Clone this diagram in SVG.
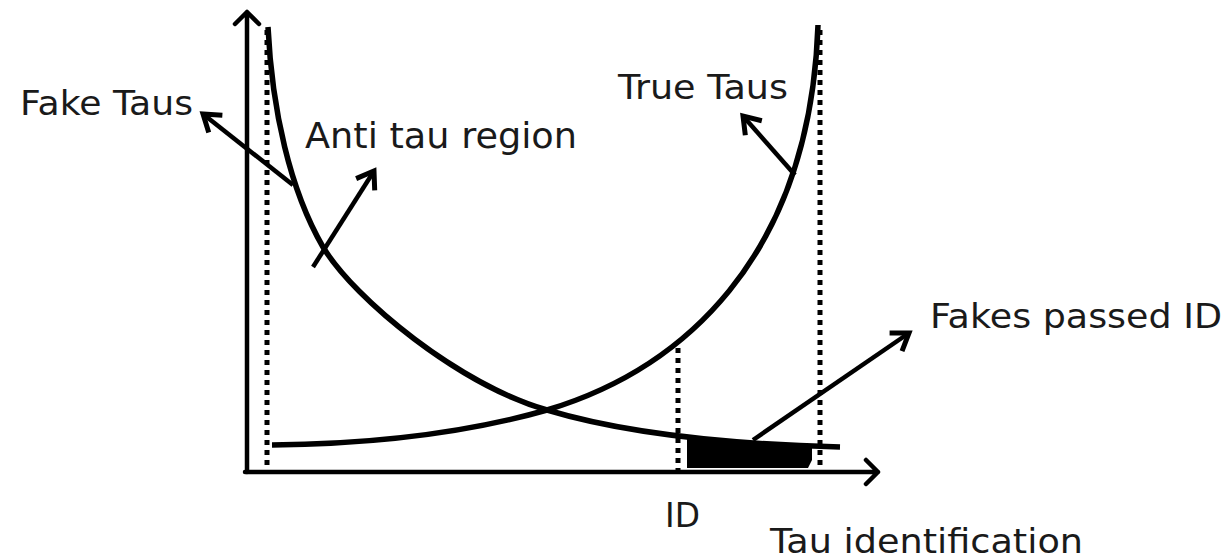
<svg xmlns="http://www.w3.org/2000/svg" width="1229" height="560" viewBox="0 0 1229 560">
<style>
.ax{fill:none;stroke:#000;stroke-width:4.5;stroke-linecap:round;stroke-linejoin:round}
.curve{fill:none;stroke:#000;stroke-width:5.5}
.dot{fill:none;stroke:#000;stroke-width:5;stroke-dasharray:5 5}
.ann{fill:none;stroke:#000;stroke-width:4.5;marker-end:url(#head)}
.lbl{font-family:"DejaVu Sans","Verdana",sans-serif;fill:#1a1a1a}
</style>
<defs>
<marker id="head" markerUnits="userSpaceOnUse" markerWidth="40" markerHeight="40" refX="0" refY="0" viewBox="-20 -20 40 40" orient="auto" overflow="visible">
<path d="M-16,-11 L0,0 L-16,11" fill="none" stroke="#000" stroke-width="5" stroke-linejoin="miter"/>
</marker>
</defs>
<g id="axes">
<path class="ax" d="M247,472 V12 M235,24 L247,12 L259,24"/>
<path class="ax" d="M245,472 H878 M866,460 L878,472 L866,484"/>
</g>
<g id="guides">
<line class="dot" x1="267" y1="30" x2="267" y2="470"/>
<line class="dot" x1="820" y1="30" x2="820" y2="466"/>
<line class="dot" x1="678" y1="348" x2="678" y2="470"/>
</g>
<g id="fakes-region">
<polygon points="687,439 750,442 812,445 812,460 808,468 687,468" fill="#000"/>
</g>
<g id="fake-curve">
<path class="curve" d="M268,27 C272,110 290,190 323,247 C355,300 460,385 547,410 C620,432 720,444 840,447"/>
</g>
<g id="true-curve">
<path class="curve" d="M272,445 C380,444 470,432 547,410 C680,370 810,260 818,25"/>
</g>
<g id="connectors">
<line class="ann" x1="293" y1="185" x2="203" y2="114"/>
<line class="ann" x1="313" y1="267" x2="374" y2="171"/>
<line class="ann" x1="795" y1="175" x2="743" y2="116"/>
<line class="ann" x1="753" y1="440" x2="909" y2="333"/>
</g>
<g id="label-fake-taus"><text class="lbl" x="20" y="115" font-size="34" textLength="173" lengthAdjust="spacingAndGlyphs">Fake Taus</text></g>
<g id="label-anti-tau"><text class="lbl" x="305" y="148" font-size="36" textLength="272" lengthAdjust="spacingAndGlyphs">Anti tau region</text></g>
<g id="label-true-taus"><text class="lbl" x="618" y="99" font-size="34" textLength="170" lengthAdjust="spacingAndGlyphs">True Taus</text></g>
<g id="label-fakes-passed"><text class="lbl" x="930" y="328" font-size="33" textLength="292" lengthAdjust="spacingAndGlyphs">Fakes passed ID</text></g>
<g id="label-id"><text class="lbl" x="665" y="527" font-size="33" textLength="35" lengthAdjust="spacingAndGlyphs">ID</text></g>
<g id="label-tau-id"><text class="lbl" x="770" y="553" font-size="33" textLength="313" lengthAdjust="spacingAndGlyphs">Tau identification</text></g>
</svg>
